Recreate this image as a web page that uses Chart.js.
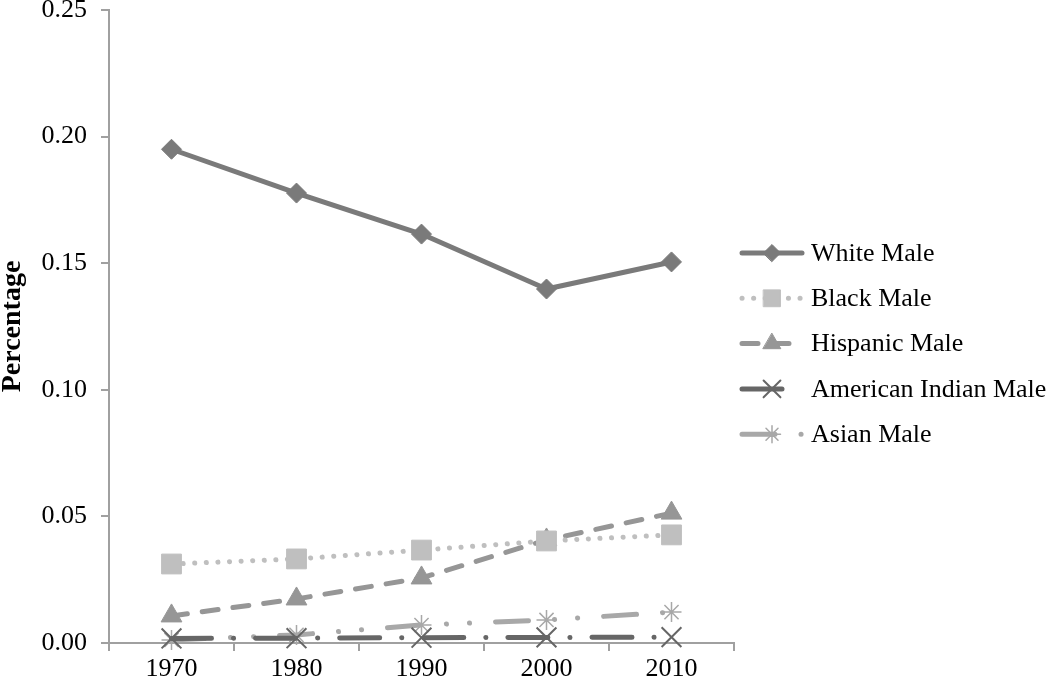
<!DOCTYPE html>
<html>
<head>
<meta charset="utf-8">
<script src="https://cdn.jsdelivr.net/npm/chart.js@4/dist/chart.umd.min.js"></script>
<style>
html,body{margin:0;padding:0;background:#fff;}
#wrap{width:1050px;height:684px;position:relative;}
</style>
</head>
<body>
<div id="wrap"><canvas id="c" width="1050" height="684"></canvas></div>
<script>
const years = ['1970','1980','1990','2000','2010'];
const seriesNames = ['White Male','Black Male','Hispanic Male','American Indian Male','Asian Male'];
const whiteMale = [0.195, 0.1777, 0.1615, 0.1398, 0.1505];
const blackMale = [0.0312, 0.0332, 0.0367, 0.0403, 0.0427];
const hispanicMale = [0.0107, 0.0174, 0.0257, 0.0407, 0.0513];
const americanIndianMale = [0.0018, 0.0019, 0.0021, 0.0022, 0.0023];
const asianMale = [0.0012, 0.0032, 0.0071, 0.0091, 0.0122];
const yTicks = [0, 0.05, 0.10, 0.15, 0.20, 0.25];

const FONT = "'Liberation Serif', 'Times New Roman', serif";
const AXIS = '#a0a0a0';

const styles = [
  {color:'#7a7a7a', dash:[], style:'rectRot', radius:10, pbw:1},
  {color:'#bfbfbf', dash:[0.1, 11.5], style:'rect', radius:14, pbw:1},
  {color:'#969696', dash:[16, 15], style:'triangle', radius:12, pbw:1},
  {color:'#666666', dash:[40, 22, 0.1, 22], style:'crossRot', radius:14, pbw:2},
  {color:'#a8a8a8', dash:[33, 26, 0.1, 23, 0.1, 26], style:'star', radius:10, pbw:1.5}
];
const values = [whiteMale, blackMale, hispanicMale, americanIndianMale, asianMale];

const datasets = values.map((v, i) => ({
  label: seriesNames[i],
  data: v,
  borderColor: styles[i].color,
  backgroundColor: styles[i].color,
  borderWidth: 5,
  borderDash: styles[i].dash,
  borderCapStyle: 'round',
  borderJoinStyle: 'round',
  pointStyle: styles[i].style,
  pointRadius: styles[i].radius,
  pointHoverRadius: styles[i].radius,
  pointBackgroundColor: styles[i].color,
  pointBorderColor: styles[i].color,
  pointBorderWidth: styles[i].pbw,
  tension: 0,
  fill: false,
  clip: false
}));

const legendPlugin = {
  id: 'customLegend',
  afterDraw(chart) {
    const ctx = chart.ctx;
    const x0 = 742, x1 = 802, xm = 772, xt = 811;
    chart.data.datasets.forEach((ds, i) => {
      const y = 253 + 45.3 * i;
      ctx.save();
      ctx.strokeStyle = ds.borderColor;
      ctx.lineWidth = ds.borderWidth;
      ctx.lineCap = 'round';
      ctx.setLineDash(ds.borderDash || []);
      ctx.beginPath();
      ctx.moveTo(x0, y);
      ctx.lineTo(x1, y);
      ctx.stroke();
      ctx.setLineDash([]);
      ctx.fillStyle = ds.pointBackgroundColor;
      ctx.strokeStyle = ds.pointBorderColor;
      ctx.lineWidth = ds.pointBorderWidth;
      Chart.helpers.drawPoint(ctx, {pointStyle: ds.pointStyle, radius: ds.pointRadius * 0.85, rotation: 0, borderWidth: ds.pointBorderWidth}, xm, y);
      ctx.fillStyle = '#000';
      ctx.font = '26px ' + FONT;
      ctx.textBaseline = 'middle';
      ctx.textAlign = 'left';
      ctx.fillText(ds.label, xt, y + 1);
      ctx.restore();
    });
  }
};

new Chart(document.getElementById('c'), {
  type: 'line',
  data: { labels: years, datasets },
  options: {
    responsive: false,
    animation: false,
    devicePixelRatio: 1,
    layout: { autoPadding: false, padding: { top: 10, right: 316, bottom: 0, left: 0 } },
    plugins: { legend: { display: false }, tooltip: { enabled: false } },
    scales: {
      x: {
        type: 'category',
        offset: true,
        grid: { display: true, drawOnChartArea: false, drawTicks: true, tickLength: 8, offset: true, color: AXIS, lineWidth: 2 },
        border: { display: true, color: AXIS, width: 2 },
        ticks: { color: '#000', font: { family: FONT, size: 26 }, padding: 3, maxRotation: 0 },
        afterFit(s) { s.height = 41; s.paddingLeft = 0; s.paddingRight = 0; }
      },
      y: {
        min: 0, max: 0.25,
        afterBuildTicks(s) { s.ticks = yTicks.map(v => ({ value: v })); },
        grid: { display: true, drawOnChartArea: false, drawTicks: true, tickLength: 8, color: AXIS, lineWidth: 2 },
        border: { display: true, color: AXIS, width: 2 },
        ticks: { color: '#000', font: { family: FONT, size: 26, lineHeight: 0.6 }, padding: 14, callback: v => Number(v).toFixed(2) },
        title: { display: true, text: 'Percentage', color: '#000', font: { family: FONT, size: 28, weight: 'bold' }, padding: { top: -4, bottom: 0 } },
        afterFit(s) { s.width = 109; s.paddingTop = 0; s.paddingBottom = 0; }
      }
    }
  },
  plugins: [legendPlugin]
});
</script>
</body>
</html>
